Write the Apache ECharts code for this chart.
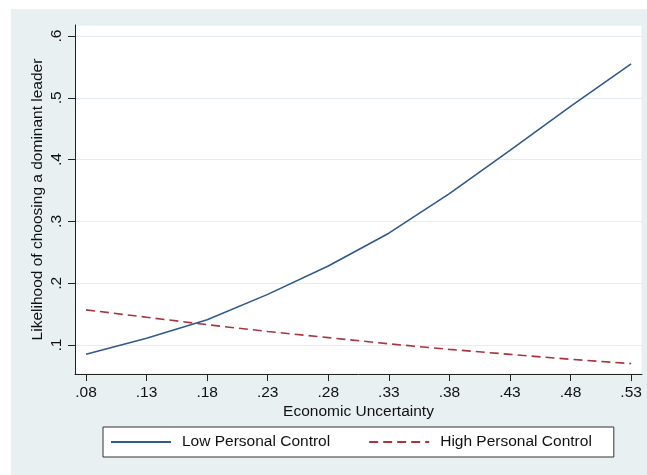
<!DOCTYPE html>
<html>
<head>
<meta charset="utf-8">
<script src="https://cdn.jsdelivr.net/npm/echarts@6/dist/echarts.min.js"></script>
<style>
html,body{margin:0;padding:0;background:#fff;}
#c{width:647px;height:475px;}
</style>
</head>
<body>
<div id="c"></div>
<script>
const xValues = [0.08, 0.13, 0.18, 0.23, 0.28, 0.33, 0.38, 0.43, 0.48, 0.53];
const lowControl = [0.085, 0.111, 0.141, 0.182, 0.228, 0.281, 0.345, 0.415, 0.486, 0.555];
const highControl = [0.157, 0.145, 0.133, 0.122, 0.112, 0.102, 0.093, 0.085, 0.077, 0.070];
const xTicks = [0.08, 0.13, 0.18, 0.23, 0.28, 0.33, 0.38, 0.43, 0.48, 0.53];
const yTicks = [0.1, 0.2, 0.3, 0.4, 0.5, 0.6];

const fmt = (v, d) => v.toFixed(d).replace(/^0/, '');
const font = 'Liberation Sans, Arial, sans-serif';
const bg = '#e8f0f2';
const fs = 15.5;

const chart = echarts.init(document.getElementById('c'), null, {renderer: 'canvas'});
chart.setOption({
  backgroundColor: '#ffffff',
  animation: false,
  textStyle: {fontFamily: font},
  graphic: [{
    type: 'rect', left: 11, top: 9, z: -100,
    shape: {width: 636, height: 466},
    style: {fill: bg}
  }],
  grid: {
    left: 75, right: 5, top: 25, bottom: 101,
    show: true, backgroundColor: '#ffffff', borderColor: '#e3ecef', borderWidth: 1
  },
  xAxis: {
    type: 'value', min: 0.0709, max: 0.539,
    name: 'Economic Uncertainty', nameLocation: 'middle', nameGap: 30, nameMoveOverlap: false,
    nameTextStyle: {fontSize: fs, color: '#111', fontFamily: font},
    axisLine: {show: true, onZero: false, lineStyle: {color: '#222', width: 1}},
    axisTick: {show: true, length: 7, customValues: xTicks, lineStyle: {color: '#222'}},
    axisLabel: {customValues: xTicks, formatter: v => fmt(v, 2), fontSize: fs, color: '#111', margin: 11, fontFamily: font},
    splitLine: {show: false}
  },
  yAxis: {
    type: 'value', min: 0.0532, max: 0.6178,
    name: 'Likelihood of choosing a dominant leader', nameLocation: 'middle', nameGap: 29, nameRotate: 90, nameMoveOverlap: false,
    nameTextStyle: {fontSize: fs, color: '#111', fontFamily: font},
    axisLine: {show: true, onZero: false, lineStyle: {color: '#222', width: 1}},
    axisTick: {show: true, length: 7, customValues: yTicks, lineStyle: {color: '#222'}},
    axisLabel: {customValues: yTicks, formatter: v => fmt(v, 1), fontSize: fs, color: '#111', rotate: 90, margin: 10, fontFamily: font},
    splitLine: {show: true, lineStyle: {color: '#e3ecef', width: 1.2}}
  },
  legend: {
    left: 103, top: 427,
    padding: [7, 22, 7, 7],
    itemWidth: 60, itemHeight: 14, itemGap: 38,
    borderColor: '#333', borderWidth: 1, backgroundColor: '#ffffff',
    itemStyle: {opacity: 0},
    textStyle: {fontSize: fs, color: '#111', padding: [0, 0, 0, 6], fontFamily: font},
    data: ['Low Personal Control', 'High Personal Control']
  },
  series: [
    {
      name: 'Low Personal Control', type: 'line', symbol: 'none', showSymbol: false,
      data: xValues.map((x, i) => [x, lowControl[i]]),
      lineStyle: {color: '#2f5a8a', width: 1.6},
      itemStyle: {color: '#2f5a8a'}
    },
    {
      name: 'High Personal Control', type: 'line', symbol: 'none', showSymbol: false,
      data: xValues.map((x, i) => [x, highControl[i]]),
      lineStyle: {color: '#a8353f', width: 1.6, type: [9, 5]},
      itemStyle: {color: '#a8353f'}
    }
  ]
});
</script>
</body>
</html>
